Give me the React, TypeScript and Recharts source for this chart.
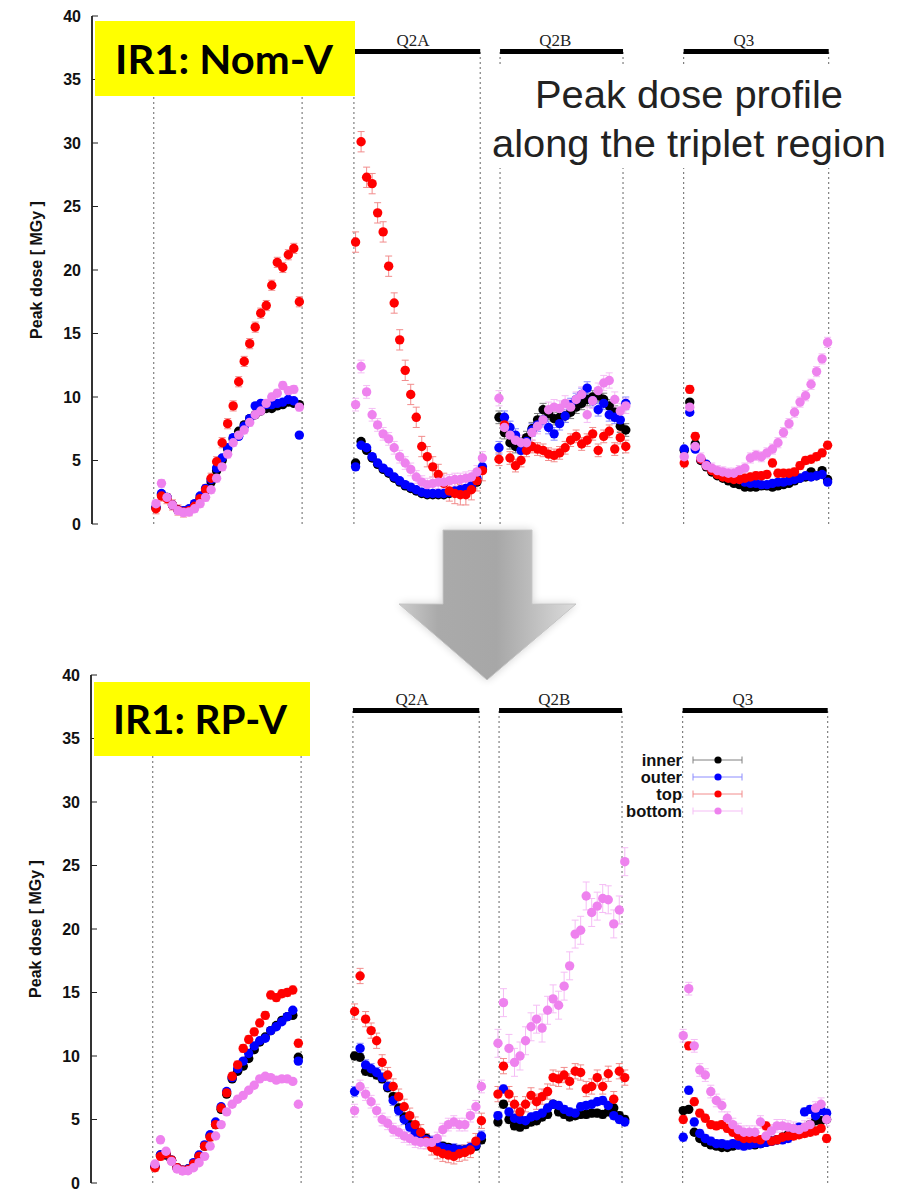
import React from 'react'
import {
  ErrorBar,
  Legend,
  ReferenceDot,
  ReferenceLine,
  Scatter,
  ScatterChart,
  XAxis,
  YAxis,
} from 'recharts'

/** Peak dose along the IR1 triplet: two panels (Nom-V / RP-V), four azimuthal positions. */

// sampled positions along the line, one list per magnet region
const X_Q1 = [5.8, 6.3, 6.8, 7.3, 7.8, 8.3, 8.8, 9.3, 9.8, 10.3, 10.8, 11.3, 11.8, 12.3, 12.8, 13.3, 13.8, 14.3, 14.8, 15.3, 15.8, 16.3, 16.8, 17.3, 17.8, 18.3, 18.8]
const X_Q2A = [23.9, 24.4, 24.9, 25.4, 25.9, 26.4, 26.9, 27.4, 27.9, 28.4, 28.9, 29.4, 29.9, 30.4, 30.9, 31.4, 31.9, 32.4, 32.9, 33.4, 33.9, 34.4, 34.9, 35.4]
const X_Q2B = [36.9, 37.4, 37.9, 38.4, 38.9, 39.4, 39.9, 40.4, 40.9, 41.4, 41.9, 42.4, 42.9, 43.4, 43.9, 44.4, 44.9, 45.4, 45.9, 46.4, 46.9, 47.4, 47.9, 48.4]
const X_Q3 = [53.7, 54.2, 54.7, 55.2, 55.7, 56.2, 56.7, 57.2, 57.7, 58.2, 58.7, 59.2, 59.7, 60.2, 60.7, 61.2, 61.7, 62.2, 62.7, 63.2, 63.7, 64.2, 64.7, 65.2, 65.7, 66.2, 66.7]
const SEGMENT_X = [X_Q1, X_Q2A, X_Q2B, X_Q3]

const X_TICKS = [10, 20, 30, 40, 50, 60]
const Y_TICKS = [0, 5, 10, 15, 20, 25, 30, 35, 40]

const MAGNET_NAMES = ['Q2A', 'Q2B', 'Q3']
const MAGNET_START = [23.75, 37.0, 53.65]
const MAGNET_END = [35.2, 48.15, 66.8]
const MAGNET_LABEL_X = [29.1, 42.0, 59.1]
const MAGNET_LEVEL = 37.2
const BOUNDARY_X = [5.6, 19.05, 23.75, 35.2, 37.0, 48.15, 53.65, 66.8]

const SERIES_NAMES = ['inner', 'outer', 'top', 'bottom']

// ---- IR1: Nom-V (MGy), per region Q1 / Q2A / Q2B / Q3
const NOM_INNER = [
  [1.3, 2.3, 2.1, 1.5, 1.1, 1.0, 1.1, 1.5, 2.0, 2.6, 3.3, 4.2, 5.0, 5.9, 6.7, 7.3, 7.8, 8.3, 8.6, 8.9, 9.1, 9.1, 9.3, 9.4, 9.6, 9.5, 9.4],
  [4.8, 6.5, 5.8, 5.2, 4.7, 4.3, 4.0, 3.6, 3.3, 3.0, 2.8, 2.6, 2.4, 2.3, 2.3, 2.3, 2.3, 2.4, 2.5, 2.5, 2.6, 2.8, 3.3, 4.3],
  [8.4, 7.2, 6.4, 6.1, 6.3, 6.8, 7.5, 8.2, 9.0, 8.7, 8.3, 8.4, 8.5, 8.8, 9.2, 9.5, 9.8, 10.0, 10.1, 9.8, 9.3, 8.8, 7.7, 7.4],
  [5.8, 9.6, 6.3, 5.0, 4.5, 4.1, 3.8, 3.6, 3.4, 3.2, 3.1, 2.9, 2.9, 2.9, 3.0, 3.0, 2.9, 3.0, 3.1, 3.2, 3.4, 3.6, 3.7, 4.1, 3.8, 4.2, 3.5],
]
const NOM_OUTER = [
  [1.3, 2.4, 2.1, 1.5, 1.1, 1.05, 1.2, 1.6, 2.2, 2.8, 3.5, 4.4, 5.2, 6.0, 6.8, 6.9, 7.7, 8.3, 9.3, 9.5, 9.4, 9.4, 9.5, 9.6, 9.8, 9.7, 7.0],
  [4.5, 6.2, 6.0, 5.3, 4.8, 4.4, 4.1, 3.7, 3.4, 3.1, 2.9, 2.7, 2.5, 2.4, 2.4, 2.4, 2.4, 2.5, 2.6, 2.7, 2.8, 3.0, 3.6, 4.5],
  [6.0, 8.4, 7.6, 7.0, 5.8, 6.5, 7.4, 7.8, 8.2, 7.6, 7.1, 7.9, 8.5, 9.4, 9.8, 10.2, 10.7, 9.7, 9.0, 9.5, 8.6, 8.4, 8.2, 9.5],
  [5.9, 8.8, 5.9, 5.1, 4.7, 4.3, 4.0, 3.8, 3.7, 3.6, 3.5, 3.3, 3.2, 3.2, 3.1, 3.1, 3.2, 3.3, 3.3, 3.4, 3.5, 3.6, 3.8, 3.7, 3.8, 3.9, 3.3],
]
const NOM_TOP = [
  [1.2, 2.2, 2.0, 1.5, 1.1, 0.95, 1.05, 1.4, 2.0, 2.7, 3.6, 4.9, 6.4, 7.9, 9.3, 11.2, 12.8, 14.2, 15.5, 16.6, 17.2, 18.8, 20.6, 20.2, 21.2, 21.7, 17.5],
  [22.2, 30.1, 27.3, 26.8, 24.5, 23.0, 20.3, 17.4, 14.5, 12.1, 10.2, 8.4, 6.1, 5.3, 4.5, 3.9, 3.2, 2.6, 2.4, 2.3, 2.3, 2.7, 3.4, 4.2],
  [5.1, 7.8, 5.2, 4.6, 5.0, 5.8, 6.1, 5.9, 5.8, 5.5, 5.4, 5.6, 6.0, 6.6, 6.9, 6.3, 6.6, 7.1, 5.8, 6.9, 7.3, 5.9, 6.8, 6.1],
  [4.8, 10.6, 6.9, 5.1, 4.6, 4.2, 3.9, 3.7, 3.6, 3.5, 3.5, 3.6, 3.7, 3.8, 3.8, 3.9, 4.8, 4.0, 4.0, 4.0, 4.1, 4.6, 5.0, 5.1, 5.3, 5.6, 6.2],
]
const NOM_BOTTOM = [
  [1.6, 3.2, 2.1, 1.5, 1.05, 0.9, 0.95, 1.2, 1.6, 2.1, 2.7, 3.6, 4.5, 5.5, 6.4, 7.0, 7.4, 8.0, 8.6, 8.9, 9.5, 10.0, 10.3, 10.9, 10.5, 10.6, 9.2],
  [9.4, 12.4, 10.4, 8.6, 7.8, 7.1, 6.7, 6.0, 5.3, 4.8, 4.3, 3.7, 3.3, 3.1, 3.2, 3.3, 3.3, 3.4, 3.5, 3.5, 3.6, 3.7, 4.1, 5.2],
  [9.9, 7.6, 7.0, 6.6, 6.4, 6.4, 7.2, 7.7, 8.2, 9.0, 9.2, 9.1, 9.5, 9.2, 9.8, 10.2, 8.6, 9.7, 10.5, 11.1, 11.3, 9.8, 8.9, 9.3],
  [5.3, 9.2, 6.1, 5.2, 4.6, 4.4, 4.2, 4.1, 4.0, 4.0, 4.2, 4.4, 5.2, 5.4, 5.3, 5.6, 5.9, 6.4, 7.2, 7.9, 8.8, 9.6, 10.1, 11.0, 12.0, 13.0, 14.3],
]
// half error bar per region
const NOM_INNER_ERR = [0.2, 0.2, 0.5, 0.2]
const NOM_OUTER_ERR = [0.2, 0.2, 0.5, 0.2]
const NOM_TOP_ERR = [0.4, 0.8, 0.5, 0.3]
const NOM_BOTTOM_ERR = [0.3, 0.5, 0.6, 0.4]

// ---- IR1: RP-V
const RP_INNER = [
  [1.3, 2.2, 2.2, 1.8, 1.2, 1.0, 1.1, 1.5, 2.1, 2.9, 3.7, 4.6, 5.8, 7.0, 8.2, 8.8, 9.2, 9.8, 10.5, 11.1, 11.5, 12.0, 12.4, 12.8, 13.1, 13.2, 9.9],
  [10.0, 9.9, 8.8, 8.7, 8.5, 8.2, 7.5, 6.8, 5.9, 5.2, 4.6, 4.1, 3.7, 3.5, 3.2, 3.0, 2.9, 2.8, 2.7, 2.6, 2.6, 2.7, 2.9, 3.4],
  [4.8, 6.2, 5.0, 4.5, 4.4, 4.6, 4.8, 4.9, 5.2, 5.4, 6.2, 5.6, 5.4, 5.2, 5.3, 5.4, 5.4, 5.5, 5.5, 5.4, 5.6, 5.9, 5.3, 5.0],
  [5.7, 5.8, 4.0, 3.5, 3.2, 3.0, 2.9, 2.8, 2.8, 2.9, 3.0, 3.0, 3.0, 3.0, 3.1, 3.2, 3.3, 3.4, 3.6, 3.8, 4.0, 4.2, 4.3, 4.6, 4.9, 4.9, 5.0],
]
const RP_OUTER = [
  [1.3, 2.2, 2.3, 1.8, 1.2, 1.0, 1.1, 1.6, 2.2, 3.0, 3.8, 4.8, 6.0, 7.2, 8.3, 9.0, 9.6, 10.2, 10.8, 11.2, 11.4, 12.0, 12.3, 12.7, 13.1, 13.6, 9.6],
  [7.2, 10.6, 9.3, 9.0, 8.7, 8.3, 7.6, 6.5, 5.7, 5.0, 4.4, 3.9, 3.6, 3.4, 3.3, 3.0, 2.8, 2.7, 2.7, 2.6, 2.6, 2.8, 3.0, 3.7],
  [5.3, 7.4, 5.6, 5.1, 5.0, 4.9, 5.2, 5.3, 5.5, 5.9, 6.2, 6.1, 5.8, 5.6, 5.5, 6.0, 6.1, 6.2, 6.4, 6.5, 6.1, 5.3, 5.0, 4.8],
  [3.6, 7.3, 4.8, 3.9, 3.5, 3.3, 3.1, 3.1, 3.0, 3.1, 3.0, 2.9, 3.0, 3.1, 3.1, 3.2, 3.3, 3.4, 3.4, 3.5, 3.9, 4.4, 5.6, 5.8, 5.3, 5.7, 5.5],
]
const RP_TOP = [
  [1.2, 2.1, 2.3, 1.8, 1.2, 1.0, 1.05, 1.5, 2.1, 2.9, 3.6, 4.6, 5.9, 7.1, 8.4, 9.3, 10.6, 11.3, 11.9, 12.6, 13.2, 14.8, 14.6, 14.9, 15.0, 15.2, 11.0],
  [13.5, 16.3, 12.9, 12.0, 11.2, 9.5, 8.5, 7.6, 6.8, 6.0, 5.3, 4.6, 4.0, 3.3, 2.8, 2.5, 2.3, 2.2, 2.1, 2.3, 2.4, 2.6, 3.3, 4.9],
  [7.0, 9.2, 7.0, 6.2, 5.6, 6.2, 6.9, 6.4, 6.8, 7.2, 8.3, 8.2, 8.5, 8.0, 8.8, 8.7, 7.4, 7.6, 8.3, 7.6, 8.6, 6.6, 8.8, 8.3],
  [5.0, 10.8, 6.4, 5.5, 5.1, 4.6, 4.5, 4.6, 4.3, 4.0, 3.7, 3.5, 3.5, 3.5, 3.4, 4.5, 3.3, 3.4, 3.6, 3.7, 3.7, 3.8, 3.9, 4.0, 4.1, 4.3, 3.5],
]
const RP_BOTTOM = [
  [1.5, 3.4, 2.5, 1.7, 1.1, 0.95, 0.97, 1.2, 1.6, 2.1, 2.9, 3.7, 4.6, 5.6, 6.2, 6.6, 6.9, 7.3, 7.7, 8.2, 8.4, 8.3, 8.1, 8.2, 8.2, 8.0, 6.2],
  [5.7, 7.6, 7.0, 6.4, 5.7, 5.0, 4.7, 4.2, 4.0, 3.7, 3.5, 3.3, 3.2, 3.2, 3.2, 3.5, 4.2, 4.6, 4.8, 4.6, 4.6, 5.3, 6.0, 7.6],
  [11.0, 14.2, 10.6, 9.5, 10.0, 11.2, 12.3, 12.9, 12.2, 13.6, 14.5, 14.0, 15.5, 17.1, 19.6, 19.9, 22.6, 21.3, 21.8, 22.4, 22.3, 20.4, 21.5, 25.3],
  [11.6, 15.3, 10.8, 8.9, 8.5, 7.2, 6.5, 6.1, 5.1, 4.6, 4.2, 4.0, 4.0, 4.0, 4.8, 3.7, 4.1, 4.5, 4.5, 4.4, 4.3, 4.2, 4.4, 4.6, 5.9, 6.2, 5.0],
]
const RP_INNER_ERR = [0.2, 0.3, 0.3, 0.2]
const RP_OUTER_ERR = [0.2, 0.4, 0.3, 0.3]
const RP_TOP_ERR = [0.3, 0.6, 0.6, 0.3]
const RP_BOTTOM_ERR = [0.2, 0.5, 1.1, 0.5]

const DOT_COLORS = ['#000000', '#0000ff', '#ff0000', '#ee82ee']
const BAR_COLORS = ['#808080', '#8c8cff', '#f28c8c', '#f5bdf5']
const SANS = '"Liberation Sans", Arial, sans-serif'
const SERIF = '"Liberation Serif", "Times New Roman", serif'

type Row = { x: number; y: number; err: number }

function toRows(values: number[][], errs: number[]): Row[] {
  return SEGMENT_X.flatMap((xs, s) =>
    xs
      .map((x, i) => ({ x, y: values[s][i], err: errs[s] }))
      .filter((r) => r.y !== undefined),
  )
}

const LeftTick = ({ x, y, payload }: any) => (
  <g>
    <line x1={x} x2={x + 6} y1={y} y2={y} stroke="#222" />
    <text
      x={x - 11}
      y={y}
      textAnchor="end"
      dominantBaseline="central"
      fontFamily={SANS}
      fontWeight="bold"
      fontSize={16}
      fill="#111"
    >
      {payload.value}
    </text>
  </g>
)
const RightTick = ({ x, y }: any) => <line x1={x} x2={x - 6} y1={y} y2={y} stroke="#222" />
const TopTick = ({ x, y }: any) => <line x1={x} x2={x} y1={y} y2={y + 6} stroke="#222" />
const BottomTick = ({ x, y }: any) => <line x1={x} x2={x} y1={y} y2={y - 6} stroke="#222" />

function DoseLegend({ payload }: any) {
  const items = [...(payload ?? [])].sort(
    (a: any, b: any) => SERIES_NAMES.indexOf(a.value) - SERIES_NAMES.indexOf(b.value),
  )
  return (
    <svg width={170} height={72} style={{ display: 'block' }}>
      {items.map((entry: any) => {
        const i = SERIES_NAMES.indexOf(entry.value)
        const y = 9 + i * 17
        return (
          <g key={entry.value}>
            <text
              x={100}
              y={y}
              textAnchor="end"
              dominantBaseline="central"
              fontFamily={SANS}
              fontWeight="bold"
              fontSize={16.5}
              fill="#111"
            >
              {entry.value}
            </text>
            <line x1={111} x2={160} y1={y} y2={y} stroke={BAR_COLORS[i]} />
            <line x1={111} x2={111} y1={y - 3.5} y2={y + 3.5} stroke={BAR_COLORS[i]} />
            <line x1={160} x2={160} y1={y - 3.5} y2={y + 3.5} stroke={BAR_COLORS[i]} />
            <circle cx={136} cy={y} r={3.6} fill={entry.color} />
          </g>
        )
      })}
    </svg>
  )
}

function DosePanel({
  series,
  errors,
  showLegend,
}: {
  series: number[][][]
  errors: number[][]
  showLegend?: boolean
}) {
  return (
    <ScatterChart width={912} height={540} margin={{ top: 16, right: 48, bottom: 16, left: 0 }}>
      <XAxis
        xAxisId="bottom"
        type="number"
        dataKey="x"
        domain={[0, 70]}
        ticks={X_TICKS}
        height={0}
        tickSize={0}
        tickMargin={0}
        tick={<BottomTick />}
        axisLine={{ stroke: '#222', strokeWidth: 1.5 }}
      />
      <XAxis
        xAxisId="top"
        orientation="top"
        type="number"
        dataKey="x"
        domain={[0, 70]}
        ticks={X_TICKS}
        height={0}
        tickSize={0}
        tickMargin={0}
        tick={<TopTick />}
        axisLine={{ stroke: '#222', strokeWidth: 1.2 }}
      />
      <YAxis
        yAxisId="left"
        type="number"
        dataKey="y"
        domain={[0, 40]}
        ticks={Y_TICKS}
        width={92}
        tickSize={0}
        tickMargin={0}
        tick={<LeftTick />}
        axisLine={{ stroke: '#333', strokeWidth: 2 }}
        label={{
          position: 'insideLeft',
          content: ({ viewBox }: any) => {
            const cy = viewBox && viewBox.height ? viewBox.y + viewBox.height / 2 : 270
            return (
              <text
                x={36}
                y={cy}
                transform={`rotate(-90 36 ${cy})`}
                textAnchor="middle"
                dominantBaseline="central"
                fontFamily={SANS}
                fontWeight="bold"
                fontSize={16}
                fill="#111"
              >
                Peak dose [ MGy ]
              </text>
            )
          },
        }}
      />
      <YAxis
        yAxisId="right"
        orientation="right"
        type="number"
        dataKey="y"
        domain={[0, 40]}
        ticks={Y_TICKS}
        width={0}
        tickSize={0}
        tickMargin={0}
        tick={<RightTick />}
        axisLine={{ stroke: '#222', strokeWidth: 1.2 }}
      />

      {BOUNDARY_X.map((bx) => (
        <ReferenceLine
          key={`b${bx}`}
          xAxisId="bottom"
          yAxisId="left"
          segment={[
            { x: bx, y: 0 },
            { x: bx, y: MAGNET_LEVEL },
          ]}
          stroke="#666"
          strokeDasharray="2 3"
        />
      ))}
      {MAGNET_NAMES.map((name, i) => (
        <ReferenceLine
          key={name}
          xAxisId="bottom"
          yAxisId="left"
          segment={[
            { x: MAGNET_START[i], y: MAGNET_LEVEL },
            { x: MAGNET_END[i], y: MAGNET_LEVEL },
          ]}
          stroke="#000"
          strokeWidth={5}
        />
      ))}
      {MAGNET_NAMES.map((name, i) => (
        <ReferenceDot
          key={`l${name}`}
          xAxisId="bottom"
          yAxisId="left"
          x={MAGNET_LABEL_X[i]}
          y={MAGNET_LEVEL}
          r={0}
          fill="none"
          stroke="none"
          label={{
            value: name,
            position: 'top',
            offset: 6,
            fill: '#222',
            fontFamily: SERIF,
            fontSize: 17,
          }}
        />
      ))}

      {SERIES_NAMES.map((name, i) => (
        <Scatter
          key={name}
          name={name}
          xAxisId="bottom"
          yAxisId="left"
          data={toRows(series[i], errors[i])}
          fill={DOT_COLORS[i]}
          isAnimationActive={false}
          shape={(p: any) => <circle cx={p.cx} cy={p.cy} r={4.7} fill={DOT_COLORS[i]} />}
        >
          <ErrorBar
            dataKey="err"
            direction="y"
            width={3.5}
            stroke={BAR_COLORS[i]}
            strokeWidth={1}
            isAnimationActive={false}
          />
        </Scatter>
      ))}

      {showLegend && (
        <Legend
          layout="horizontal"
          verticalAlign="middle"
          align="center"
          content={<DoseLegend />}
          wrapperStyle={{ position: 'absolute', left: 583, top: 92, width: 170, height: 72 }}
        />
      )}
    </ScatterChart>
  )
}

function Overlay() {
  return (
    <svg
      width={912}
      height={1189}
      style={{ position: 'absolute', left: 0, top: 0, pointerEvents: 'none' }}
    >
      <defs>
        <linearGradient id="arrowFill" gradientUnits="userSpaceOnUse" x1={399} y1={0} x2={576} y2={0}>
          <stop offset="0%" stopColor="#cdcdcd" />
          <stop offset="22%" stopColor="#aaaaaa" />
          <stop offset="55%" stopColor="#a7a7a7" />
          <stop offset="72%" stopColor="#bababa" />
          <stop offset="100%" stopColor="#dcdcdc" />
        </linearGradient>
        <filter id="arrowShadow" x="-20%" y="-20%" width="140%" height="140%">
          <feGaussianBlur in="SourceAlpha" stdDeviation="4" />
          <feComponentTransfer>
            <feFuncA type="linear" slope="0.18" />
          </feComponentTransfer>
          <feMerge>
            <feMergeNode />
            <feMergeNode in="SourceGraphic" />
          </feMerge>
        </filter>
      </defs>

      <rect x={95} y={21} width={260} height={75} fill="#ffff00" />
      <text
        x={224}
        y={74}
        textAnchor="middle"
        textLength={218}
        lengthAdjust="spacingAndGlyphs"
        fontFamily="Lato, 'Open Sans', sans-serif"
        fontWeight="bold"
        fontSize={40}
        fill="#000"
      >
        IR1: Nom-V
      </text>

      <rect x={94} y={682} width={216} height={74} fill="#ffff00" />
      <text
        x={200}
        y={734}
        textAnchor="middle"
        textLength={174}
        lengthAdjust="spacingAndGlyphs"
        fontFamily="Lato, 'Open Sans', sans-serif"
        fontWeight="bold"
        fontSize={40}
        fill="#000"
      >
        IR1: RP-V
      </text>

      <rect x={488} y={67} width={420} height={101} fill="#ffffff" />
      <text
        x={689}
        y={108}
        textAnchor="middle"
        textLength={308}
        lengthAdjust="spacingAndGlyphs"
        fontFamily={SANS}
        fontSize={38}
        fill="#222"
      >
        Peak dose profile
      </text>
      <text
        x={689}
        y={157}
        textAnchor="middle"
        textLength={394}
        lengthAdjust="spacingAndGlyphs"
        fontFamily={SANS}
        fontSize={38}
        fill="#222"
      >
        along the triplet region
      </text>

      <polygon
        points="443,530 532,530 532,604 576,604 487,680 399,604 443,604"
        fill="url(#arrowFill)"
        stroke="#c4c4c4"
        strokeWidth={1}
        filter="url(#arrowShadow)"
      />
    </svg>
  )
}

export default function App() {
  return (
    <div
      style={{
        position: 'absolute',
        left: 0,
        top: 0,
        width: 912,
        height: 1189,
        background: '#fff',
        overflow: 'hidden',
        fontFamily: SANS,
      }}
    >
      <div style={{ position: 'absolute', left: 0, top: 0 }}>
        <DosePanel
          series={[NOM_INNER, NOM_OUTER, NOM_TOP, NOM_BOTTOM]}
          errors={[NOM_INNER_ERR, NOM_OUTER_ERR, NOM_TOP_ERR, NOM_BOTTOM_ERR]}
        />
      </div>
      <div style={{ position: 'absolute', left: -1, top: 659 }}>
        <DosePanel
          series={[RP_INNER, RP_OUTER, RP_TOP, RP_BOTTOM]}
          errors={[RP_INNER_ERR, RP_OUTER_ERR, RP_TOP_ERR, RP_BOTTOM_ERR]}
          showLegend
        />
      </div>
      <Overlay />
    </div>
  )
}
